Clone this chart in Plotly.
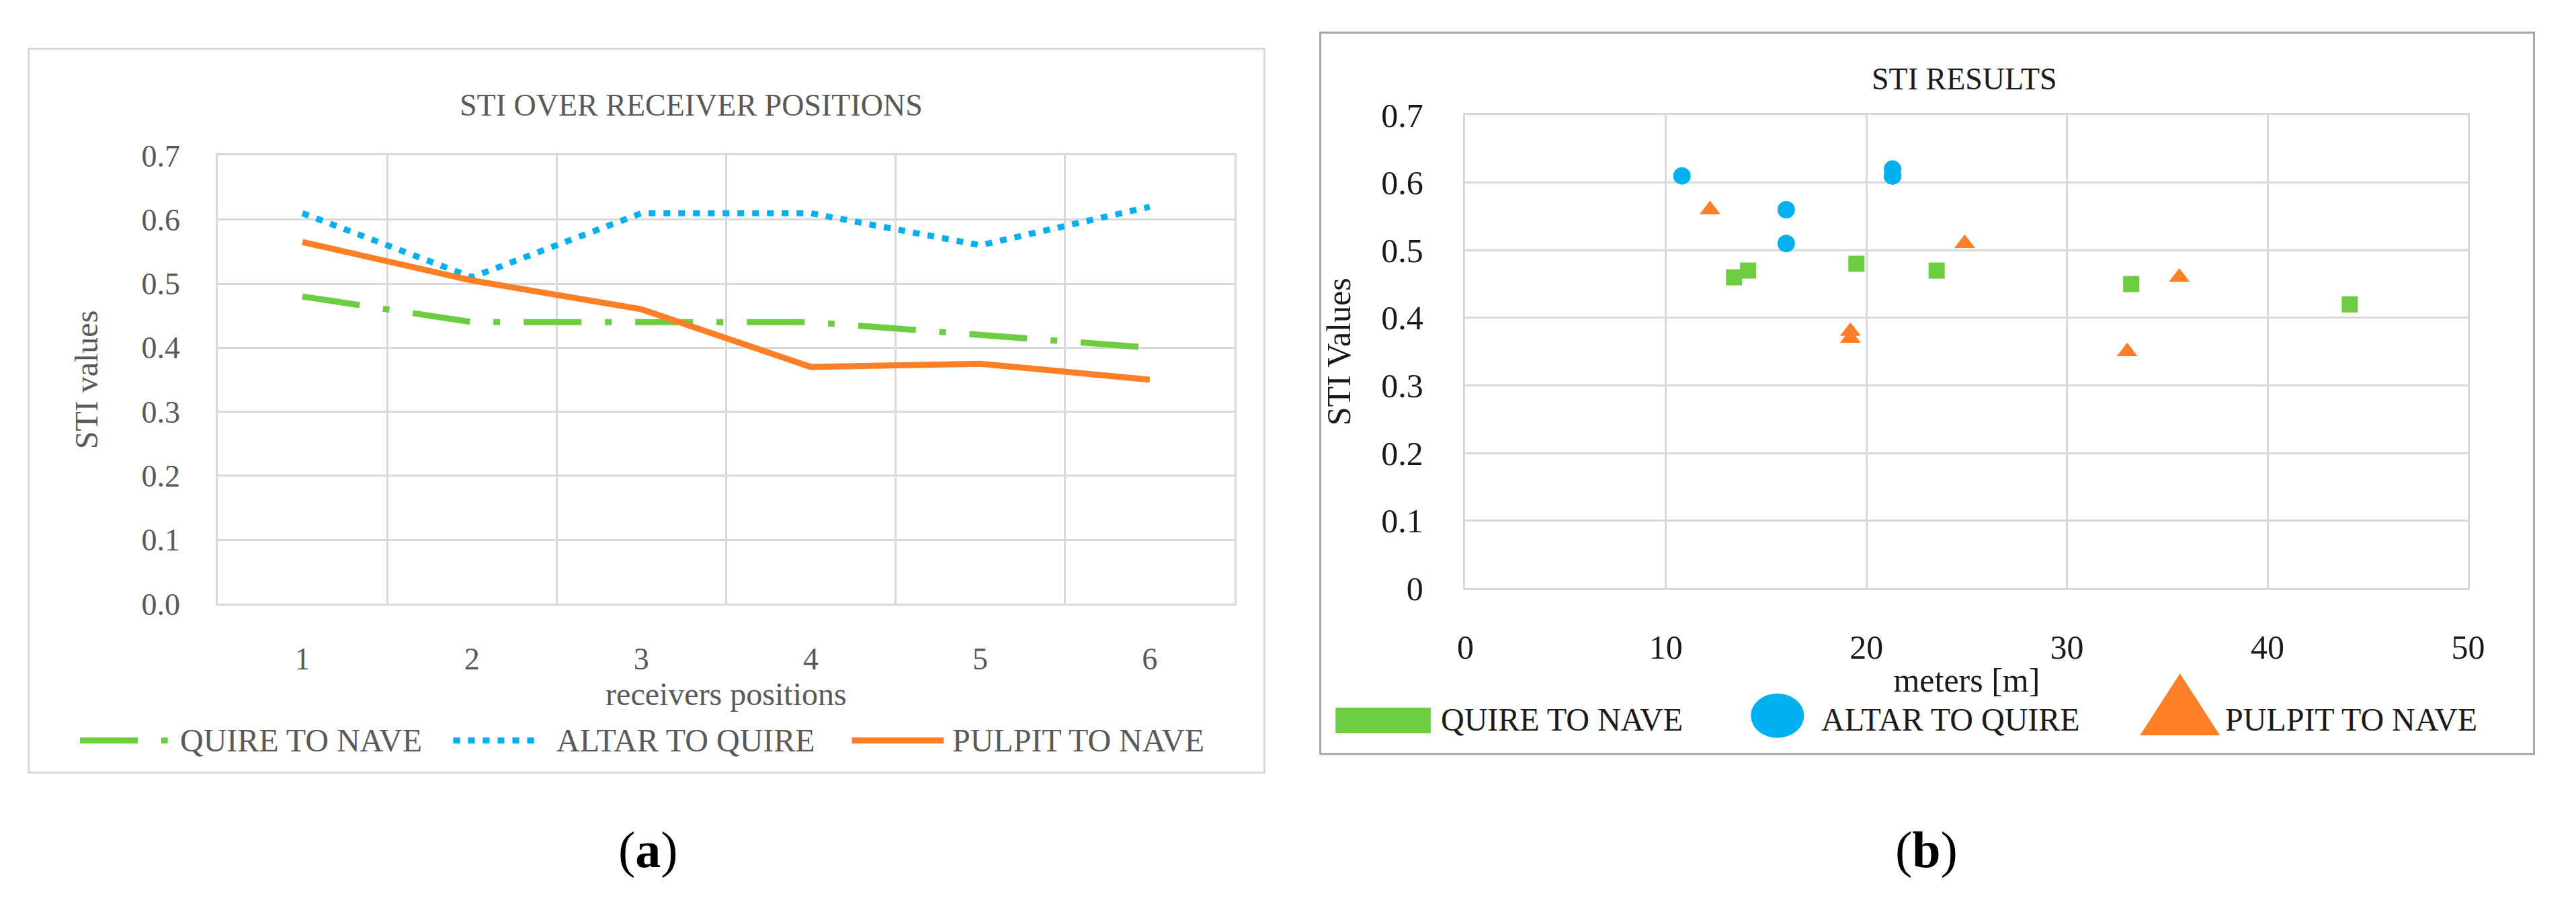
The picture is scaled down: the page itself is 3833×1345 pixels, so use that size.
import plotly.graph_objects as go

# ---------------- data ----------------
positions = ["1", "2", "3", "4", "5", "6"]
quire_to_nave = [0.48, 0.44, 0.44, 0.44, 0.42, 0.40]
altar_to_quire = [0.61, 0.51, 0.61, 0.61, 0.56, 0.62]
pulpit_to_nave = [0.565, 0.505, 0.46, 0.37, 0.375, 0.35]

quire_m = [13.4, 14.1, 19.5, 23.5, 33.2, 44.1]
quire_sti = [0.46, 0.47, 0.48, 0.47, 0.45, 0.42]
altar_m = [10.8, 16.0, 16.0, 21.3, 21.3, 21.3]
altar_sti = [0.61, 0.56, 0.51, 0.62, 0.61, 0.61]
pulpit_m = [12.2, 19.2, 19.2, 24.9, 33.0, 35.6]
pulpit_sti = [0.56, 0.38, 0.37, 0.51, 0.35, 0.46]

series_names = ["QUIRE TO NAVE", "ALTAR TO QUIRE", "PULPIT TO NAVE"]
y_ticks_a = [0.0, 0.1, 0.2, 0.3, 0.4, 0.5, 0.6, 0.7]
y_ticks_b = [0, 0.1, 0.2, 0.3, 0.4, 0.5, 0.6, 0.7]
x_ticks_b = [0, 10, 20, 30, 40, 50]

# ---------------- styling ----------------
W, H = 3833, 1345
FONT = "Liberation Serif"
GREEN = "#6BCD3F"
BLUE = "#00B0F0"
ORANGE = "#FF7F27"
GRID = "#D9D9D9"
GRAY_TXT = "#595959"
DARK_TXT = "#1A1A1A"


def px(x):
    return x / W


def py(y):
    return 1 - y / H


fig = go.Figure()

# (a) line chart
fig.add_trace(go.Scatter(x=positions, y=quire_to_nave, name=series_names[0], mode="lines",
                         line=dict(color=GREEN, width=9, dash="86px,35px,10px,35px"),
                         xaxis="x", yaxis="y", showlegend=False))
fig.add_trace(go.Scatter(x=positions, y=altar_to_quire, name=series_names[1], mode="lines",
                         line=dict(color=BLUE, width=9, dash="10px,12px"),
                         xaxis="x", yaxis="y", showlegend=False))
fig.add_trace(go.Scatter(x=positions, y=pulpit_to_nave, name=series_names[2], mode="lines",
                         line=dict(color=ORANGE, width=9),
                         xaxis="x", yaxis="y", showlegend=False))

# (b) scatter chart
fig.add_trace(go.Scatter(x=quire_m, y=quire_sti, name=series_names[0], mode="markers",
                         marker=dict(symbol="square", color=GREEN, size=24),
                         xaxis="x2", yaxis="y2", showlegend=False))
fig.add_trace(go.Scatter(x=altar_m, y=altar_sti, name=series_names[1], mode="markers",
                         marker=dict(symbol="circle", color=BLUE, size=26),
                         xaxis="x2", yaxis="y2", showlegend=False))
fig.add_trace(go.Scatter(x=pulpit_m, y=pulpit_sti, name=series_names[2], mode="markers",
                         marker=dict(symbol="triangle-up", color=ORANGE, size=27),
                         xaxis="x2", yaxis="y2", showlegend=False))

axis_common = dict(showgrid=True, gridcolor=GRID, gridwidth=2.5, showline=True, mirror=True,
                   linecolor=GRID, linewidth=2.5, ticks="", zeroline=False, fixedrange=True)

fig.update_layout(
    width=W, height=H,
    margin=dict(l=0, r=0, t=0, b=0),
    paper_bgcolor="white", plot_bgcolor="white",
    font=dict(family=FONT, size=46, color=GRAY_TXT),
    showlegend=False,
    xaxis=dict(axis_common, domain=[px(306), px(1834)], type="category", tickson="boundaries",
               range=[-0.5, 5.5], anchor="y",
               tickfont=dict(size=46, color=GRAY_TXT), ticklabelstandoff=40,
               title=dict(text="receivers positions", font=dict(size=48, color=GRAY_TXT), standoff=8)),
    yaxis=dict(axis_common, domain=[py(901), py(205)], range=[0, 0.7], tickvals=y_ticks_a,
               tickformat=".1f", anchor="x",
               zeroline=True, zerolinecolor="#BFBFBF", zerolinewidth=3,
               tickfont=dict(size=46, color=GRAY_TXT), ticklabelstandoff=44,
               title=dict(text="STI values", font=dict(size=48, color=GRAY_TXT), standoff=50)),
    xaxis2=dict(axis_common, domain=[px(2181), px(3688)], range=[0, 50], tickvals=x_ticks_b,
                anchor="y2",
                tickfont=dict(size=50, color=DARK_TXT), ticklabelstandoff=42,
                title=dict(text="meters [m]", font=dict(size=50, color=DARK_TXT), standoff=4)),
    yaxis2=dict(axis_common, domain=[py(877), py(142)], range=[0, 0.7], tickvals=y_ticks_b,
                anchor="x2",
                zeroline=True, zerolinecolor="#BFBFBF", zerolinewidth=3,
                tickfont=dict(size=50, color=DARK_TXT), ticklabelstandoff=50,
                title=dict(text="STI Values", font=dict(size=50, color=DARK_TXT), standoff=30)),
)

shapes = []
annotations = []

# outer frames
shapes.append(dict(type="rect", xref="paper", yref="paper", x0=px(22), x1=px(1879), y0=py(1163), y1=py(39),
                   line=dict(color="#D9D9D9", width=3), fillcolor="rgba(0,0,0,0)", layer="below"))
shapes.append(dict(type="rect", xref="paper", yref="paper", x0=px(1963), x1=px(3787), y0=py(1134), y1=py(14),
                   line=dict(color="#A6A6A6", width=3), fillcolor="rgba(0,0,0,0)", layer="below"))

# chart titles
annotations.append(dict(text="STI OVER RECEIVER POSITIONS", xref="paper", yref="paper", x=px(1018), y=py(127),
                        showarrow=False, xanchor="center", yanchor="middle",
                        font=dict(family=FONT, size=46, color=GRAY_TXT)))
annotations.append(dict(text="STI RESULTS", xref="paper", yref="paper", x=px(2931), y=py(86),
                        showarrow=False, xanchor="center", yanchor="middle",
                        font=dict(family=FONT, size=46, color=DARK_TXT)))

# legend (a): line samples + labels
leg_a_y = py(1113)
leg_a = [
    (99, 231, GREEN, "86px,35px,10px,35px", 247),
    (660, 783, BLUE, "10px,12px", 813),
    (1259, 1397, ORANGE, "solid", 1408),
]
for (x0, x1, col, dash, tx), name in zip(leg_a, series_names):
    shapes.append(dict(type="line", xref="paper", yref="paper", x0=px(x0), x1=px(x1), y0=leg_a_y, y1=leg_a_y,
                       line=dict(color=col, width=9, dash=dash)))
    annotations.append(dict(text=name, xref="paper", yref="paper", x=px(tx), y=leg_a_y, showarrow=False,
                            xanchor="left", yanchor="middle", font=dict(family=FONT, size=48, color=GRAY_TXT)))

# legend (b): large symbols + labels
shapes.append(dict(type="rect", xref="paper", yref="paper", x0=px(1986), x1=px(2129), y0=py(1102), y1=py(1062),
                   line=dict(width=0), fillcolor=GREEN))
shapes.append(dict(type="circle", xref="paper", yref="paper", x0=px(2610), x1=px(2690), y0=py(1109), y1=py(1040),
                   line=dict(width=0), fillcolor=BLUE))
shapes.append(dict(type="path", xref="paper", yref="paper",
                   path=f"M {px(3195)} {py(1105)} L {px(3315)} {py(1105)} L {px(3255)} {py(1009)} Z",
                   line=dict(width=0), fillcolor=ORANGE))
for tx, name in zip([2142, 2714, 3321], series_names):
    annotations.append(dict(text=name, xref="paper", yref="paper", x=px(tx), y=py(1080), showarrow=False,
                            xanchor="left", yanchor="middle", font=dict(family=FONT, size=48, color=DARK_TXT)))

# panel labels
annotations.append(dict(text="(<b>a</b>)", xref="paper", yref="paper", x=px(953), y=py(1283), showarrow=False,
                        xanchor="center", yanchor="middle", font=dict(family=FONT, size=76, color="#000000")))
annotations.append(dict(text="(<b>b</b>)", xref="paper", yref="paper", x=px(2874), y=py(1283), showarrow=False,
                        xanchor="center", yanchor="middle", font=dict(family=FONT, size=76, color="#000000")))

fig.update_layout(shapes=shapes, annotations=annotations)

fig.write_html("out.html")
